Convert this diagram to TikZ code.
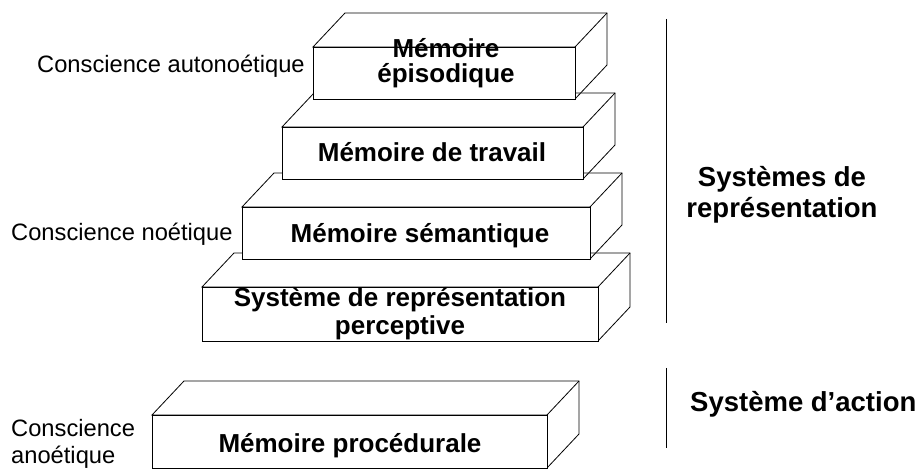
\documentclass[tikz,border=0pt]{standalone}
\usepackage{fontspec}
\setmainfont{Liberation Sans}
\begin{document}
\begin{tikzpicture}[x=1pt,y=-1pt,
  boxline/.style={draw=black,line width=0.8pt},
  face/.style={boxline,fill=white,inner sep=0pt},
  boxtext/.style={font=\fontsize{26}{30}\selectfont\bfseries,inner sep=0pt,anchor=base},
  sidetext/.style={font=\fontsize{23.7}{27}\selectfont,inner sep=0pt,anchor=base west},
  grouptext/.style={font=\fontsize{27.5}{31}\selectfont\bfseries,inner sep=0pt,anchor=base},
  divider/.style={draw=black,line width=0.9pt}]
\useasboundingbox (0,0) rectangle (922,470);

% depth of every block: offset of the back edges
\def\dx{32}
\def\dy{-34}

% a block: front face (name, corners x1,y1,x2,y2) plus its top and right faces
\newcommand\memblock[5]{%
  \path[boxline] (#2,#3) -- ({#2+\dx},{#3+\dy}) -- ({#4+\dx},{#3+\dy})
        -- ({#4+\dx},{#5+\dy}) -- (#4,#5) -- (#4,#3) -- cycle;
  \draw[boxline] (#4,#3) -- ({#4+\dx},{#3+\dy});
  \node[face,minimum width={#4-#2},minimum height={#5-#3}] (#1)
        at ({(#2+#4)/2},{(#3+#5)/2}) {};
}

% blocks, from the bottom of the stack upwards
\memblock{proc}{152}{415}{547}{468}
\memblock{perc}{202}{287}{598}{341}
\memblock{sem}{242}{207}{590}{259}
\memblock{trav}{282}{127}{583}{179}
\memblock{epi}{313}{47}{575}{99}

% block labels
\node[boxtext] (epiA) at (446,58) {Mémoire};
\node[boxtext] (epiB) at (446,83) {épisodique};
\node[boxtext] (travA) at (432,162) {Mémoire de travail};
\node[boxtext] (semA) at (420,243) {Mémoire sémantique};
\node[boxtext] (percA) at (400,307) {Système de représentation};
\node[boxtext] (percB) at (400,335) {perceptive};
\node[boxtext] (procA) at (350,453) {Mémoire procédurale};

% levels of consciousness
\node[sidetext] (auto) at (37,73) {Conscience autonoétique};
\node[sidetext] (noet) at (11,241) {Conscience noétique};
\node[sidetext] (anoA) at (11,437) {Conscience};
\node[sidetext] (anoB) at (11,464) {anoétique};

% groups of systems
\coordinate (repTop) at (666,19);
\coordinate (repBot) at (666,323);
\coordinate (actTop) at (666,368);
\coordinate (actBot) at (666,448);
\draw[divider] (repTop) -- (repBot);
\draw[divider] (actTop) -- (actBot);
\node[grouptext] (repA) at (782,187) {Systèmes de};
\node[grouptext] (repB) at (782,218) {représentation};
\node[grouptext,anchor=base west] (act) at (690,412) {Système d’action};
\end{tikzpicture}
\end{document}
